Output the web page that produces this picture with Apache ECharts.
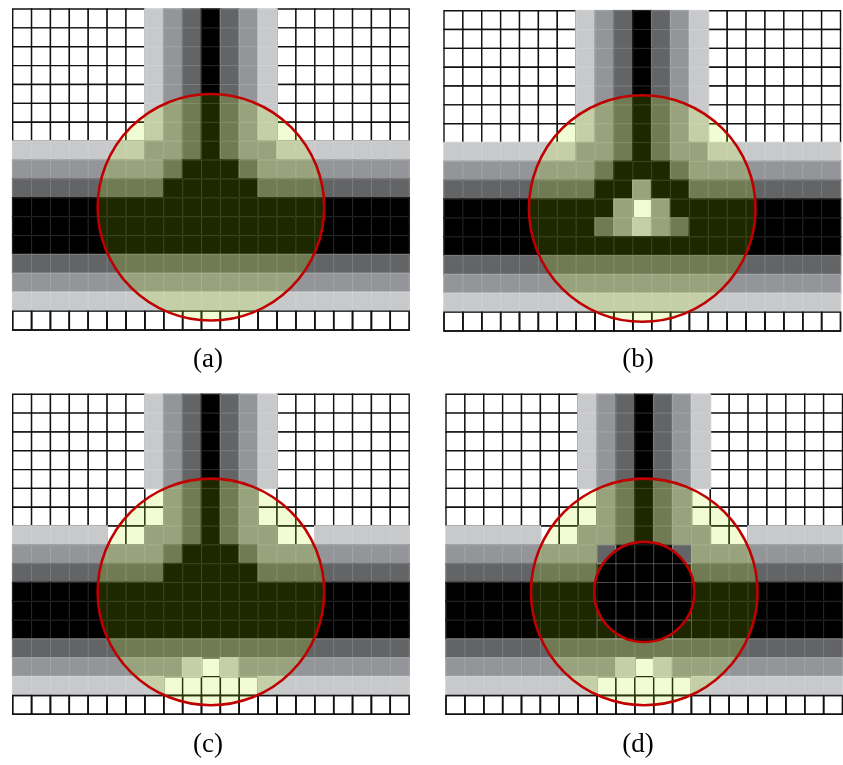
<!DOCTYPE html>
<html><head><meta charset="utf-8">
<script src="https://cdn.jsdelivr.net/npm/echarts@6/dist/echarts.min.js"></script>
<style>html,body{margin:0;padding:0;background:#fff}#chart{width:843px;height:765px}</style>
</head><body><div id="chart"></div><script>
// Intensity levels per cell: 0 = white, 1 = light gray, 2 = mid gray, 3 = dark gray, 4 = black
const panelA = [
  "000000012343210000000",
  "000000012343210000000",
  "000000012343210000000",
  "000000012343210000000",
  "000000012343210000000",
  "000000012343210000000",
  "000000012343210000000",
  "111111122343221111111",
  "222222223444322222222",
  "333333334444433333333",
  "444444444444444444444",
  "444444444444444444444",
  "444444444444444444444",
  "333333333333333333333",
  "222222222222222222222",
  "111111111111111111111",
  "000000000000000000000"
];
const panelB = [
  "000000012343210000000",
  "000000012343210000000",
  "000000012343210000000",
  "000000012343210000000",
  "000000012343210000000",
  "000000012343210000000",
  "000000012343210000000",
  "111111122343221111111",
  "222222223444322222222",
  "333333334424433333333",
  "444444444202444444444",
  "444444443212344444444",
  "444444444444444444444",
  "333333333333333333333",
  "222222222222222222222",
  "111111111111111111111",
  "000000000000000000000"
];
const panelC = [
  "000000012343210000000",
  "000000012343210000000",
  "000000012343210000000",
  "000000012343210000000",
  "000000012343210000000",
  "000000002343200000000",
  "000000002343200000000",
  "111110022343220011111",
  "222222223444322222222",
  "333333334444433333333",
  "444444444444444444444",
  "444444444444444444444",
  "444444444444444444444",
  "333333333333333333333",
  "222222222101222222222",
  "111111110000011111111",
  "000000000000000000000"
];
const panelD = [
  "000000012343210000000",
  "000000012343210000000",
  "000000012343210000000",
  "000000012343210000000",
  "000000012343210000000",
  "000000002343200000000",
  "000000002343200000000",
  "111110022343220011111",
  "222222223444322222222",
  "333333334444433333333",
  "444444444444444444444",
  "444444444444444444444",
  "444444444444444444444",
  "333333333333333333333",
  "222222222101222222222",
  "111111110000011111111",
  "000000000000000000000"
];
const panelLabels = ["(a)", "(b)", "(c)", "(d)"];
const circleCenter = [10.5, 10.5];   // cell units (centre of cell col 10,row 10)
const outerRadius = 6.0;             // cell units
const innerRadius = 2.65;            // cell units, panel (d) only
const holeRows = [8, 8];             // panel (d) untinted cells around the inner disk
const holeCols = [8, 12];

const NCOLS = 21, NROWS = 17;
const LEVEL_COLORS = ['#ffffff', '#c8c9cb', '#939598', '#636466', '#000000'];
const TINT = 'rgba(178,236,0,0.17)';
const RED = '#c00000';

const layouts = [
  {left: 12.7, top: 9, width: 396.5, height: 321},
  {left: 444, top: 10.7, width: 396.5, height: 320.3},
  {left: 12.7, top: 394.3, width: 396.5, height: 320},
  {left: 446, top: 394.3, width: 396.5, height: 320}
];
const labelPos = [[208, 360], [638, 360], [208, 745], [638, 745]];
const panels = [panelA, panelB, panelC, panelD];

function cells(matrix) {
  const out = [];
  matrix.forEach((row, r) => {
    for (let c = 0; c < row.length; c++) out.push([c, r, +row[c]]);
  });
  return out;
}
function cellRect(api) {
  const c = api.value(0), r = api.value(1);
  const p0 = api.coord([c, r]), p1 = api.coord([c + 1, r + 1]);
  return {x: p0[0], y: p0[1], width: p1[0] - p0[0], height: p1[1] - p0[1]};
}
function renderWhite(params, api) {
  const s = cellRect(api);
  return {type: 'rect', shape: s, style: {fill: '#ffffff', stroke: '#111111', lineWidth: 1.4}};
}
function renderStrokeOnly(params, api) {
  const s = cellRect(api);
  return {type: 'rect', shape: s, style: {fill: null, stroke: '#111111', lineWidth: 1.4}};
}
function renderGray(params, api) {
  const s = cellRect(api), e = 0.8, lv = api.value(2);
  return {type: 'group', children: [
    {type: 'rect', shape: {x: s.x - e, y: s.y - e, width: s.width + 2 * e, height: s.height + 2 * e},
     style: {fill: LEVEL_COLORS[lv]}},
    {type: 'rect', shape: s, style: {fill: null, stroke: 'rgba(255,255,255,0.16)', lineWidth: 1}}
  ]};
}
function renderHoleCell(params, api) {
  const s = cellRect(api), lv = api.value(2);
  return {type: 'group', children: [
    {type: 'rect', shape: s, style: {fill: LEVEL_COLORS[lv]}},
    {type: 'rect', shape: s, style: {fill: null, stroke: 'rgba(255,255,255,0.16)', lineWidth: 1}}
  ]};
}
function renderFaint(params, api) {
  const s = cellRect(api);
  return {type: 'rect', shape: s, style: {fill: null, stroke: 'rgba(255,255,255,0.16)', lineWidth: 1}};
}
function circleShape(api) {
  const c = api.coord([api.value(0), api.value(1)]);
  const r = api.size([api.value(2), 0])[0];
  return {cx: c[0], cy: c[1], r: r};
}
function renderTint(params, api) {
  return {type: 'circle', shape: circleShape(api), style: {fill: TINT}};
}
function renderBlackDisk(params, api) {
  return {type: 'circle', shape: circleShape(api), style: {fill: '#000000'}};
}
function renderRing(params, api) {
  return {type: 'circle', shape: circleShape(api), style: {fill: null, stroke: RED, lineWidth: 2.6}};
}

const grid = [], xAxis = [], yAxis = [], series = [], graphic = [];
panels.forEach((m, i) => {
  grid.push(Object.assign({containLabel: false}, layouts[i]));
  xAxis.push({type: 'value', gridIndex: i, min: 0, max: NCOLS, show: false});
  yAxis.push({type: 'value', gridIndex: i, min: 0, max: NROWS, inverse: true, show: false});
  const all = cells(m);
  const base = {type: 'custom', xAxisIndex: i, yAxisIndex: i, silent: true, animation: false, clip: false};
  series.push(Object.assign({}, base, {z: 2, renderItem: renderWhite, data: all.filter(d => d[2] === 0)}));
  series.push(Object.assign({}, base, {z: 3, renderItem: renderGray, data: all.filter(d => d[2] > 0)}));
  series.push(Object.assign({}, base, {z: 4, renderItem: renderStrokeOnly,
    data: all.filter(d => d[2] === 0 && d[1] === NROWS - 1)}));
  series.push(Object.assign({}, base, {z: 5, renderItem: renderTint,
    data: [[circleCenter[0], circleCenter[1], outerRadius]]}));
  const rings = [[circleCenter[0], circleCenter[1], outerRadius]];
  if (i === 3) {
    const hole = all.filter(d => d[1] >= holeRows[0] && d[1] <= holeRows[1] && d[0] >= holeCols[0] && d[0] <= holeCols[1]);
    const inner = all.filter(d => d[1] >= 8 && d[1] <= 12 && d[0] >= 8 && d[0] <= 12);
    series.push(Object.assign({}, base, {z: 6, renderItem: renderHoleCell, data: hole}));
    series.push(Object.assign({}, base, {z: 7, renderItem: renderBlackDisk,
      data: [[circleCenter[0], circleCenter[1], innerRadius]]}));
    series.push(Object.assign({}, base, {z: 8, renderItem: renderFaint, data: inner}));
    rings.push([circleCenter[0], circleCenter[1], innerRadius]);
  }
  series.push(Object.assign({}, base, {z: 9, renderItem: renderRing, data: rings}));
  graphic.push({type: 'text', x: labelPos[i][0], y: labelPos[i][1], silent: true,
    style: {text: panelLabels[i], fill: '#000', font: '27px "Liberation Serif", "Times New Roman", serif',
      textAlign: 'center', textVerticalAlign: 'middle'}});
});

const chart = echarts.init(document.getElementById('chart'), null, {renderer: 'canvas'});
chart.setOption({animation: false, backgroundColor: '#ffffff', grid, xAxis, yAxis, series, graphic});
</script></body></html>
